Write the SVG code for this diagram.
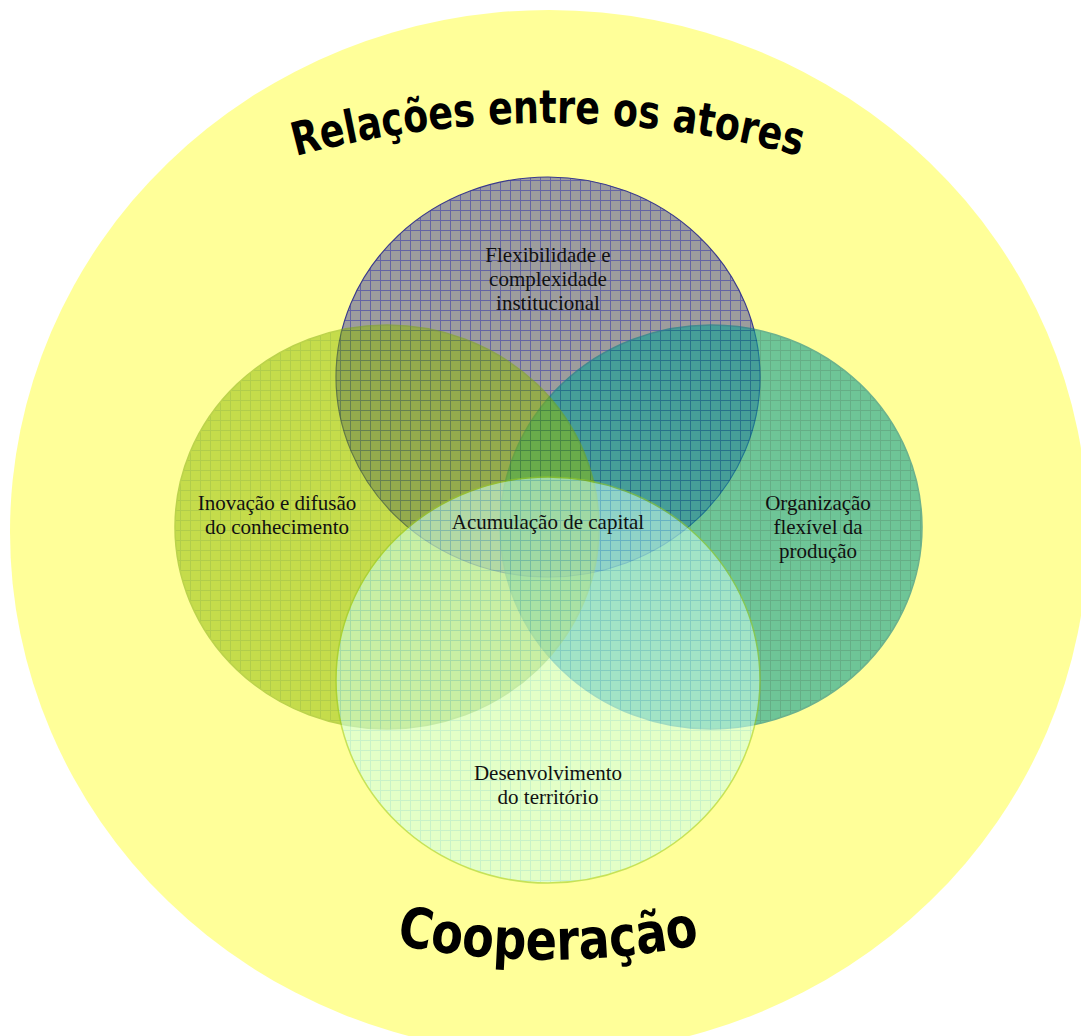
<svg xmlns="http://www.w3.org/2000/svg" width="1081" height="1036" viewBox="0 0 1081 1036">
  <style>
    .lbl { font-family: "Liberation Serif", "Times New Roman", serif; font-size: 21px; fill: #111; text-anchor: middle; }
    .big { font-family: "DejaVu Sans Condensed", "DejaVu Sans", sans-serif; font-weight: bold; fill: #000; }
    pattern rect { shape-rendering: crispEdges; }
  </style>
  <defs>
    <pattern id="pTop" patternUnits="userSpaceOnUse" width="10" height="10">
      <rect width="10" height="10" fill="#9d9d9d"/>
      <rect width="10" height="1" fill="#6464a4"/>
      <rect width="1" height="10" fill="#6464a4"/>
    </pattern>
    <pattern id="pRight" patternUnits="userSpaceOnUse" width="10" height="10">
      <rect width="10" height="10" fill="#0ea096"/>
      <rect width="10" height="1" fill="#007a7a"/>
      <rect width="1" height="10" fill="#007a7a"/>
    </pattern>
    <pattern id="pLeft" patternUnits="userSpaceOnUse" width="10" height="10">
      <rect width="10" height="10" fill="#8cba00"/>
      <rect width="10" height="1" fill="#669c00"/>
      <rect width="1" height="10" fill="#669c00"/>
    </pattern>
    <pattern id="pBottom" patternUnits="userSpaceOnUse" width="10" height="10">
      <rect width="10" height="10" fill="#cdffee"/>
      <rect width="10" height="1" fill="#9ce8f0"/>
      <rect width="1" height="10" fill="#9ce8f0"/>
    </pattern>
    <path id="arcTop" d="M 48 261 A 975 975 0 0 1 1048 261" fill="none"/>
    <path id="arcBottom" d="M 48 771 A 757 757 0 0 0 1048 771" fill="none"/>
  </defs>

  <g id="background">
    <ellipse cx="549" cy="532" rx="539" ry="522" fill="#ffff99"/>
  </g>

  <g id="titles">
    <text class="big" font-size="46"><textPath href="#arcTop" startOffset="50%" text-anchor="middle" textLength="510" lengthAdjust="spacingAndGlyphs">Relações entre os atores</textPath></text>
    <text class="big" font-size="56"><textPath href="#arcBottom" startOffset="50%" text-anchor="middle" textLength="306" lengthAdjust="spacingAndGlyphs">Cooperação</textPath></text>
  </g>

  <g id="connectors"></g>

  <g id="node-top">
    <ellipse cx="548" cy="377" rx="212" ry="200" fill="url(#pTop)" stroke="#3a3a8c" stroke-width="1.2"/>
  </g>
  <g id="node-right">
    <ellipse cx="711" cy="527" rx="211" ry="202" fill="url(#pRight)" stroke="#0a7f86" stroke-width="1.5" opacity="0.6"/>
  </g>
  <g id="node-left">
    <ellipse cx="387" cy="527" rx="212" ry="202" fill="url(#pLeft)" stroke="#7aa800" stroke-width="1.5" opacity="0.5"/>
  </g>
  <g id="node-bottom">
    <ellipse cx="548" cy="680" rx="212" ry="203" fill="url(#pBottom)" stroke="#99cc22" stroke-width="1.5" opacity="0.55"/>
  </g>

  <g id="labels">
    <text class="lbl" x="548" y="262">Flexibilidade e</text>
    <text class="lbl" x="548" y="286">complexidade</text>
    <text class="lbl" x="548" y="310">institucional</text>
    <text class="lbl" x="277" y="510">Inovação e difusão</text>
    <text class="lbl" x="277" y="534">do conhecimento</text>
    <text class="lbl" x="818" y="510">Organização</text>
    <text class="lbl" x="818" y="534">flexível da</text>
    <text class="lbl" x="818" y="558">produção</text>
    <text class="lbl" x="548" y="529">Acumulação de capital</text>
    <text class="lbl" x="548" y="780">Desenvolvimento</text>
    <text class="lbl" x="548" y="804">do território</text>
  </g>
</svg>
